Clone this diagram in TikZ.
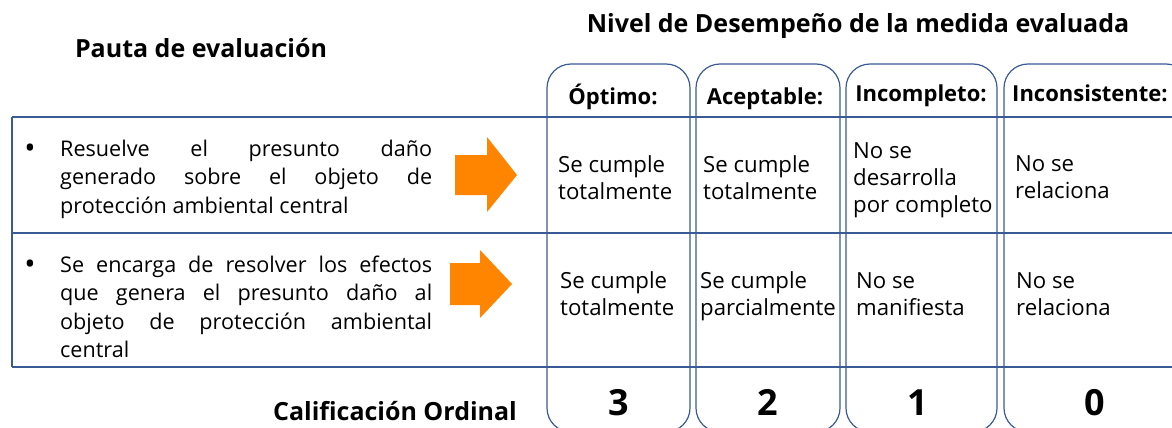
\documentclass[tikz,border=0pt]{standalone}
\usepackage{fontspec}
\setmainfont{Open Sans}
\usepackage{tikz}
\usetikzlibrary{positioning,calc}
\definecolor{ruleblue}{HTML}{3A5A95}
\definecolor{arroworange}{HTML}{FF8500}
\newcommand\nohyph{\tolerance=9999 \hyphenpenalty=10000 \relax}

\begin{document}
\begin{tikzpicture}[x=1pt,y=-1pt,
    rule/.style={ruleblue,line width=1.2pt},
    colbox/.style={ruleblue,line width=1.2pt,rounded corners=24pt},
    cell/.style={anchor=base west,align=left,inner sep=0pt,font=\fontsize{22.2}{26.7}\selectfont},
    dot/.style={anchor=base,inner sep=0pt,font=\fontsize{30}{30}\selectfont},
    crit/.style={anchor=base west,text width=372pt,align=justify,inner sep=0pt,
      font=\fontsize{21.6}{28.6}\selectfont\nohyph},
    head/.style={anchor=base,inner sep=0pt,font=\bfseries\fontsize{22}{26}\selectfont},
    title/.style={anchor=base,inner sep=0pt,font=\bfseries\fontsize{25}{30}\selectfont},
    grade/.style={anchor=base,inner sep=0pt,font=\bfseries\fontsize{36}{40}\selectfont}]
  \useasboundingbox (0,0) rectangle (1172,428);

  % Level columns
  \begin{scope}
    \clip (0,0) rectangle (1172,428);
    \foreach \l/\r in {547/690,696/840,846/997,1004/1190} {
      \draw[colbox] (\l,64) rectangle (\r,432);
    }
  \end{scope}

  % Rows
  \draw[rule] (12,117) -- (1172,117);
  \draw[rule] (12,233) -- (1172,233);
  \draw[rule] (12,367) -- (1172,367);
  \draw[rule] (12,117) -- (12,367);

  % Titles
  \node[title] (pauta) at (201,58) {Pauta de evaluación};
  \node[title] (nivel) at (858,33) {Nivel de Desempeño de la medida evaluada};
  \node[title] (calif) at (395,420) {Calificación Ordinal};

  % Level headers
  \node[head] (hopt) at (613,104) {Óptimo:};
  \node[head] (hace) at (765,104) {Aceptable:};
  \node[head] (hinc) at (921,101) {Incompleto:};
  \node[head] (hcon) at (1090,101) {Inconsistente:};

  % Criteria
  \node[dot] (bul1) at (30,158) {\textbullet};
  \node[crit] (crit1) at (60,156) {Resuelve el presunto daño\linebreak generado sobre el objeto de\linebreak protección ambiental central};
  \node[dot] (bul2) at (30,274) {\textbullet};
  \node[crit] (crit2) at (60,272) {Se encarga de resolver los efectos\linebreak que genera el presunto daño al\linebreak objeto de protección ambiental\linebreak central};

  % Arrows
  \fill[arroworange] (455,155) -- (487,155) -- (487,137) -- (517,175) -- (487,212) -- (487,195) -- (455,195) -- cycle;
  \fill[arroworange] (450,263) -- (480,263) -- (480,250) -- (512,284) -- (480,318) -- (480,305) -- (450,305) -- cycle;

  % Cells (anchored at the last line)
  \node[cell] (c11) at (558,199) {Se cumple\\totalmente};
  \node[cell] (c12) at (703,199) {Se cumple\\totalmente};
  \node[cell] (c13) at (853,212) {No se\\desarrolla\\por completo};
  \node[cell] (c14) at (1015,198) {No se\\relaciona};
  \node[cell] (c21) at (560,315) {Se cumple\\totalmente};
  \node[cell] (c22) at (700,315) {Se cumple\\parcialmente};
  \node[cell] (c23) at (856,315) {No se\\manifiesta};
  \node[cell] (c24) at (1016,315) {No se\\relaciona};

  % Grades
  \foreach \x/\g in {619/3,768/2,918/1,1095/0} {
    \node[grade] (g\g) at (\x,415) {\g};
  }
\end{tikzpicture}
\end{document}
